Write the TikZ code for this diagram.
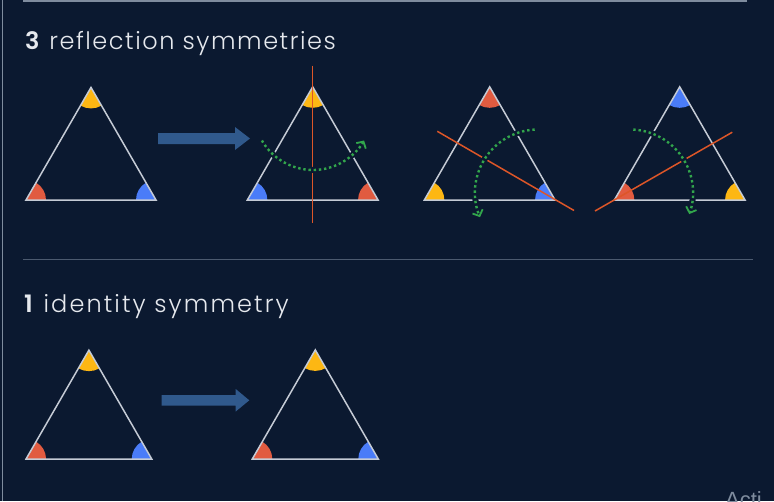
\documentclass[tikz,border=0pt]{standalone}
\usepackage{fontspec}
\setmainfont{Poppins}[UprightFont={* Light},BoldFont={* SemiBold}]
\newfontfamily\wmfont{Liberation Sans}
\usetikzlibrary{arrows.meta,calc}
\definecolor{bg}{HTML}{0B1930}
\definecolor{txt}{HTML}{E6E9EE}
\definecolor{edge}{HTML}{C5CBD5}
\definecolor{cred}{HTML}{E15B40}
\definecolor{cyel}{HTML}{FDB713}
\definecolor{cblue}{HTML}{4A7CF8}
\definecolor{corange}{HTML}{DD5628}
\definecolor{cgreen}{HTML}{32A64C}
\definecolor{carrow}{HTML}{30598C}
\definecolor{sepline}{HTML}{4C5A6F}
\definecolor{frameline}{HTML}{7F8C9E}
\tikzset{
  triline/.style={draw=edge, line width=1.5pt},
  mirror/.style={draw=corange, line width=1.5pt},
  halo/.style={draw=bg, line width=6pt},
  turn/.style={draw=cgreen, line width=2.4pt, dash pattern=on 2.4pt off 2.8pt,
    -{Straight Barb[length=5pt,width=11pt,line width=1.8pt]}},
  blockarrow/.style={fill=carrow},
  heading/.style={anchor=base west, inner sep=0pt, text=txt, font=\fontsize{24}{28}\selectfont},
}
\newcommand\mytri[7]{%
  \coordinate (#1L) at ({#2-#4/2},#3);
  \coordinate (#1R) at ({#2+#4/2},#3);
  \coordinate (#1T) at (#2,{#3-0.866*#4});
  \fill[#5] (#1T) -- ++(60:21) arc[start angle=60,end angle=120,radius=21] -- cycle;
  \fill[#6] (#1L) -- ++(-60:20) arc[start angle=-60,end angle=0,radius=20] -- cycle;
  \fill[#7] (#1R) -- ++(180:20) arc[start angle=180,end angle=240,radius=20] -- cycle;
  \draw[triline] (#1L) -- (#1R) -- (#1T) -- cycle;
}
\begin{document}
\begin{tikzpicture}[x=1pt,y=-1pt]
\useasboundingbox (0,0) rectangle (774,501);
\fill[bg] (0,0) rectangle (774,501);
% frame remnants
\coordinate (ftl) at (23,0.75);
\coordinate (ftr) at (747,0.75);
\draw[frameline, line width=1.5pt] (ftl) -- (ftr);
\coordinate (flt) at (2.5,0);
\coordinate (flb) at (2.5,501);
\draw[frameline, line width=1.5pt] (flt) -- (flb);

% headings
\node[heading] (h1) at (25,49) {\addfontfeatures{LetterSpace=6.5}\textbf{3} reflection symmetries};
\node[heading] (h2) at (24,312) {\addfontfeatures{LetterSpace=8.7}\textbf{1} identity symmetry};

% separator
\coordinate (s1) at (23,259.3);
\coordinate (s2) at (752.6,259.3);
\draw[sepline, line width=1.5pt] (s1) -- (s2);

% top row triangles
\mytri{a}{91}{200}{130}{cyel}{cred}{cblue}
\mytri{b}{312.7}{200}{130.7}{cyel}{cblue}{cred}
\mytri{c}{489.7}{200}{130.7}{cred}{cyel}{cblue}
\mytri{d}{679.7}{200}{130.7}{cblue}{cred}{cyel}

% block arrow 1
\fill[blockarrow] (158,133) -- (235,133) -- (235,127) -- (250,138.5) -- (235,150) -- (235,144) -- (158,144) -- cycle;

% mirror lines
\coordinate (m1a) at (312.7,65.7);
\coordinate (m1b) at (312.7,222.7);
\draw[mirror] (m1a) -- (m1b);
\coordinate (m2a) at (437.3,131.3);
\coordinate (m2b) at (574,210.5);
\draw[mirror] (m2a) -- (m2b);
\coordinate (m3a) at (595,211);
\coordinate (m3b) at (732.3,132.2);
\draw[mirror] (m3a) -- (m3b);

% rotation arcs
\coordinate (g1) at (313,111);
\coordinate (g1s) at ($(g1)+(150:59)$);
\draw[halo] (g1s) arc[start angle=150,end angle=33,radius=59];
\draw[turn] (g1s) arc[start angle=150,end angle=30,radius=59];
\coordinate (g2) at (538,192.5);
\coordinate (g2s) at ($(g2)+(-93:63)$);
\draw[halo] (g2s) arc[start angle=-93,end angle=-200,radius=63];
\draw[turn] (g2s) arc[start angle=-93,end angle=-203,radius=63];
\coordinate (g3) at (630,192.5);
\coordinate (g3s) at ($(g3)+(-87:63)$);
\draw[halo] (g3s) arc[start angle=-87,end angle=17,radius=63];
\draw[turn] (g3s) arc[start angle=-87,end angle=20,radius=63];

% bottom row
\mytri{e}{88.9}{459}{125.7}{cyel}{cred}{cblue}
\mytri{f}{315.3}{459}{126}{cyel}{cred}{cblue}
\fill[blockarrow] (161.7,395) -- (235.7,395) -- (235.7,389) -- (249.3,400.3) -- (235.7,411.5) -- (235.7,405.7) -- (161.7,405.7) -- cycle;

% watermark remnant
\node[anchor=north west, inner sep=0pt, text=frameline, font=\wmfont\fontsize{22}{24}\selectfont] (wm) at (725,491) {Acti};
\end{tikzpicture}
\end{document}
